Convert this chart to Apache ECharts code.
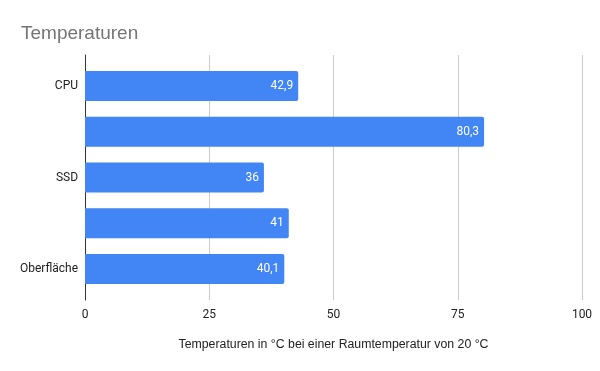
<!DOCTYPE html>
<html>
<head>
<meta charset="utf-8">
<script src="https://cdn.jsdelivr.net/npm/echarts@6/dist/echarts.min.js"></script>
<style>html,body{margin:0;padding:0;background:#fff}#c{width:600px;height:371px}</style>
</head>
<body>
<div id="c"></div>
<script>
var categories = ["CPU", "", "SSD", "", "Oberfläche"];
var values = [42.9, 80.3, 36, 41, 40.1];
var xTicks = [0, 25, 50, 75, 100];
var titleText = "Temperaturen";
var xAxisName = "Temperaturen in °C bei einer Raumtemperatur von 20 °C";

var chart = echarts.init(document.getElementById('c'), null, {renderer: 'canvas'});
var font = 'Roboto, Arial, sans-serif';
var arial = '"Liberation Sans", Arial, sans-serif';
chart.setOption({
  animation: false,
  textStyle: {fontFamily: font},
  title: {
    text: titleText, left: 16, top: 19,
    textStyle: {fontFamily: arial, fontSize: 19, fontWeight: 'normal', color: '#757575'}
  },
  grid: [
    {left: 85, right: 18, top: 55, bottom: 71, containLabel: false},
    {left: 85, right: 18, top: 63, bottom: 79, containLabel: false}
  ],
  xAxis: [
    {
      gridIndex: 0, type: 'value', min: xTicks[0], max: xTicks[xTicks.length - 1], interval: 25,
      name: xAxisName, nameLocation: 'middle', nameGap: 39,
      nameTextStyle: {fontFamily: arial, fontSize: 12.3, color: '#222'},
      axisLine: {show: false}, axisTick: {show: false},
      axisLabel: {fontFamily: font, fontSize: 12, color: '#222', margin: 9},
      splitLine: {show: true, lineStyle: {color: '#cccccc', width: 1}}
    },
    {
      gridIndex: 1, type: 'value', min: xTicks[0], max: xTicks[xTicks.length - 1],
      show: false, splitLine: {show: false}
    }
  ],
  yAxis: [
    {
      gridIndex: 0, type: 'category', data: [''],
      axisLine: {show: true, lineStyle: {color: '#333', width: 1}},
      axisTick: {show: false}, axisLabel: {show: false}, splitLine: {show: false}
    },
    {
      gridIndex: 1, type: 'category', data: categories, inverse: true,
      axisLine: {show: false}, axisTick: {show: false},
      axisLabel: {interval: 0, fontFamily: font, fontSize: 12, color: '#222', margin: 7},
      splitLine: {show: false}
    }
  ],
  series: [{
    type: 'bar', xAxisIndex: 1, yAxisIndex: 1, data: values,
    barWidth: 30,
    itemStyle: {color: '#4285F4', borderRadius: [0, 2, 2, 0]},
    label: {
      show: true, position: 'insideRight', distance: 5,
      color: '#ffffff', fontFamily: font, fontSize: 12,
      formatter: function (p) { return String(p.value).replace('.', ','); }
    }
  }]
});
</script>
</body>
</html>
